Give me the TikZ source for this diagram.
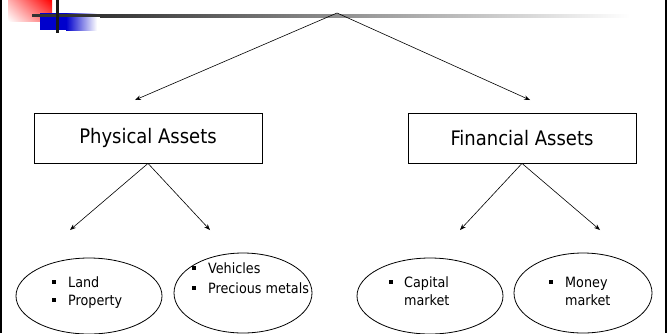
\documentclass[tikz,border=0pt]{standalone}
\usepackage{fontspec}
\setmainfont{DejaVu Sans Condensed}
\usetikzlibrary{arrows.meta,shadings}
\begin{document}
\begin{tikzpicture}[x=1pt,y=-1pt,
  box/.style={draw,line width=0.8pt,minimum width=228pt,minimum height=50pt,inner sep=0pt,font=\fontsize{20}{24}\selectfont},
  conn/.style={line width=0.6pt,-{Stealth[length=6pt,width=4.5pt]}},
  item/.style={anchor=base west,inner sep=0pt,font=\fontsize{14.2}{16}\selectfont},
  bul/.style={fill=black,minimum size=4pt,inner sep=0pt}]
\useasboundingbox (0,0) rectangle (668,333);
% decoration
\shade[lower left=white,upper left=red!30!white,upper right=red,lower right=red!60!white] (8,0) rectangle (52,21);
\shade[left color=blue!80!black,right color=white] (66,13) rectangle (97,30);
\fill[blue!80!black] (40,13) rectangle (66,30);
\shade[left color=black!80,right color=white] (100,14) rectangle (630,17);
\fill[black!80] (32,14) rectangle (100,17);
\fill[black!90] (56,0) rectangle (59,33);
\fill[black] (0,0) rectangle (2,333);
\fill[black] (665,0) rectangle (667,333);
% nodes
\coordinate (top) at (337,13);
\node[box] (pa) at (148,138) {Physical Assets};
\node[box] (fa) at (522,138) {Financial Assets};
\coordinate (ta) at (135,100);
\coordinate (tb) at (530,100);
\coordinate (pl) at (70,230);
\coordinate (pr) at (210,230);
\coordinate (fl) at (460,230);
\coordinate (fr) at (600,230);
\draw[conn] (top) -- (ta);
\draw[conn] (top) -- (tb);
\draw[conn] (pa.south) -- (pl);
\draw[conn] (pa.south) -- (pr);
\draw[conn] (fa.south) -- (fl);
\draw[conn] (fa.south) -- (fr);
% ellipses
\draw[line width=0.8pt] (89,296) ellipse [x radius=73,y radius=38];
\draw[line width=0.8pt] (243,293) ellipse [x radius=69,y radius=40];
\draw[line width=0.8pt] (430,296) ellipse [x radius=73,y radius=38];
\draw[line width=0.8pt] (583,293) ellipse [x radius=69,y radius=40];
% items
\node[bul] (b1) at (54,282) {};
\node[item] (t1) at (68,287) {Land};
\node[bul] (b2) at (54,300) {};
\node[item] (t2) at (68,305) {Property};
\node[bul] (b3) at (194,268) {};
\node[item] (t3) at (208,273) {Vehicles};
\node[bul] (b4) at (194,288) {};
\node[item] (t4) at (208,293) {Precious metals};
\node[bul] (b5) at (391,282) {};
\node[item] (t5) at (404,287) {Capital};
\node[item] (t6) at (404,305) {market};
\node[bul] (b6) at (551,282) {};
\node[item] (t7) at (565,287) {Money};
\node[item] (t8) at (565,305) {market};
\end{tikzpicture}
\end{document}
